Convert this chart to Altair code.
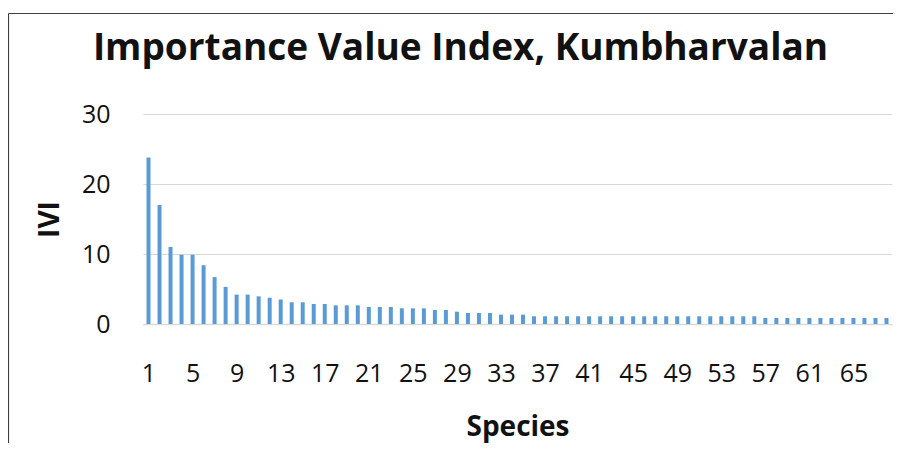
import altair as alt
import pandas as pd

species = list(range(1, 69))
ivi = [23.8, 17.0, 11.0, 9.9, 9.9, 8.4, 6.7, 5.3, 4.2, 4.2,
       3.95, 3.76, 3.5, 3.1, 3.1, 2.86, 2.86, 2.67, 2.67, 2.67,
       2.43, 2.43, 2.43, 2.24, 2.24, 2.24, 2.0, 2.0, 1.76, 1.57,
       1.57, 1.57, 1.33, 1.33, 1.33, 1.1, 1.1, 1.1, 1.1, 1.1,
       1.1, 1.1, 1.1, 1.1, 1.1, 1.1, 1.1, 1.1, 1.1, 1.1,
       1.1, 1.1, 1.1, 1.1, 1.1, 1.1, 0.86, 0.86, 0.86, 0.86,
       0.86, 0.86, 0.86, 0.86, 0.86, 0.86, 0.86, 0.86]
x_ticks = [1, 5, 9, 13, 17, 21, 25, 29, 33, 37, 41, 45, 49, 53, 57, 61, 65]
y_ticks = [0, 10, 20, 30]

df = pd.DataFrame({"Species": species, "IVI": ivi})

FONT = "Open Sans"

bars = alt.Chart(df).mark_bar(size=4, color="#5b9bd5").encode(
    x=alt.X("Species:Q",
            scale=alt.Scale(domain=[0.5, 68.5], nice=False, zero=False, padding=0),
            axis=alt.Axis(values=x_ticks, format="d", grid=False, ticks=False,
                          domain=True, domainColor="#d9d9d9", domainWidth=1.5,
                          labelFont=FONT, labelFontSize=25, labelColor="#111111",
                          labelPadding=37, labelFlush=False, labelOverlap=False,
                          title="Species", titleFont=FONT, titleFontSize=28,
                          titleFontWeight="bold", titleColor="#111111",
                          titlePadding=27)),
    y=alt.Y("IVI:Q",
            scale=alt.Scale(domain=[0, 30], nice=False),
            axis=alt.Axis(values=y_ticks, grid=True, gridColor="#d9d9d9",
                          ticks=False, domain=False,
                          labelFont=FONT, labelFontSize=25, labelColor="#111111",
                          labelPadding=33,
                          title="IVI", titleFont=FONT, titleFontSize=28,
                          titleFontWeight="bold", titleColor="#111111",
                          titlePadding=17)),
)

frame_data = alt.Data(values=[{}])
frame_top = alt.Chart(frame_data).mark_rule(color="#404040", strokeWidth=1.2).encode(
    x=alt.value(-134.5), x2=alt.value(750), y=alt.value(-100.5),
)
frame_left = alt.Chart(frame_data).mark_rule(color="#404040", strokeWidth=1.2).encode(
    x=alt.value(-134.5), y=alt.value(-100.5), y2=alt.value(340),
)

chart = alt.layer(frame_top, frame_left, bars).properties(
    width=749, height=210,
    autosize=alt.AutoSizeParams(type="none"),
    padding={"left": 135, "top": 106, "right": 1, "bottom": 119},
    title=alt.TitleParams("Importance Value Index, Kumbharvalan",
                          font=FONT, fontSize=37, fontWeight="bold",
                          color="#111111", anchor="middle", dx=-57,
                          baseline="alphabetic", offset=0, dy=84),
).configure(background="white").configure_view(stroke=None)

chart.save("out.html", embed_options={"renderer": "svg", "actions": False})
